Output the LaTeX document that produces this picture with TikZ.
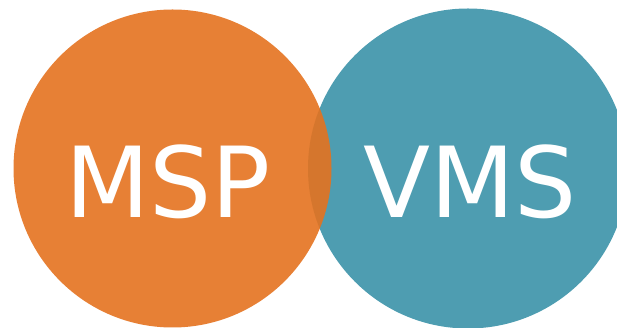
\documentclass[tikz,border=0pt]{standalone}
\usepackage{fontspec}
\setmainfont{DejaVu Sans}
\usetikzlibrary{positioning}
\definecolor{mspOrange}{RGB}{228,114,31}
\definecolor{vmsBlue}{RGB}{78,157,177}

\begin{document}
\begin{tikzpicture}[x=1pt,y=1pt,
    bubble/.style={circle,minimum size=320pt,inner sep=0pt},
    label/.style={text=white,font=\fontsize{98}{98}\selectfont,anchor=base,inner sep=0pt}
]
\useasboundingbox (0,0) rectangle (617,328);

% Circles (orange over blue)
\node[bubble,fill=vmsBlue] (vms) at (468,159.5) {};
\node[bubble,fill=mspOrange,fill opacity=0.9,minimum size=318pt] (msp) at (172.5,159.5) {};

% Labels
\node[label] (msptext) at (168,110) {MSP};
\node[label] (vmstext) at (470,110) {VMS};

\end{tikzpicture}
\end{document}
